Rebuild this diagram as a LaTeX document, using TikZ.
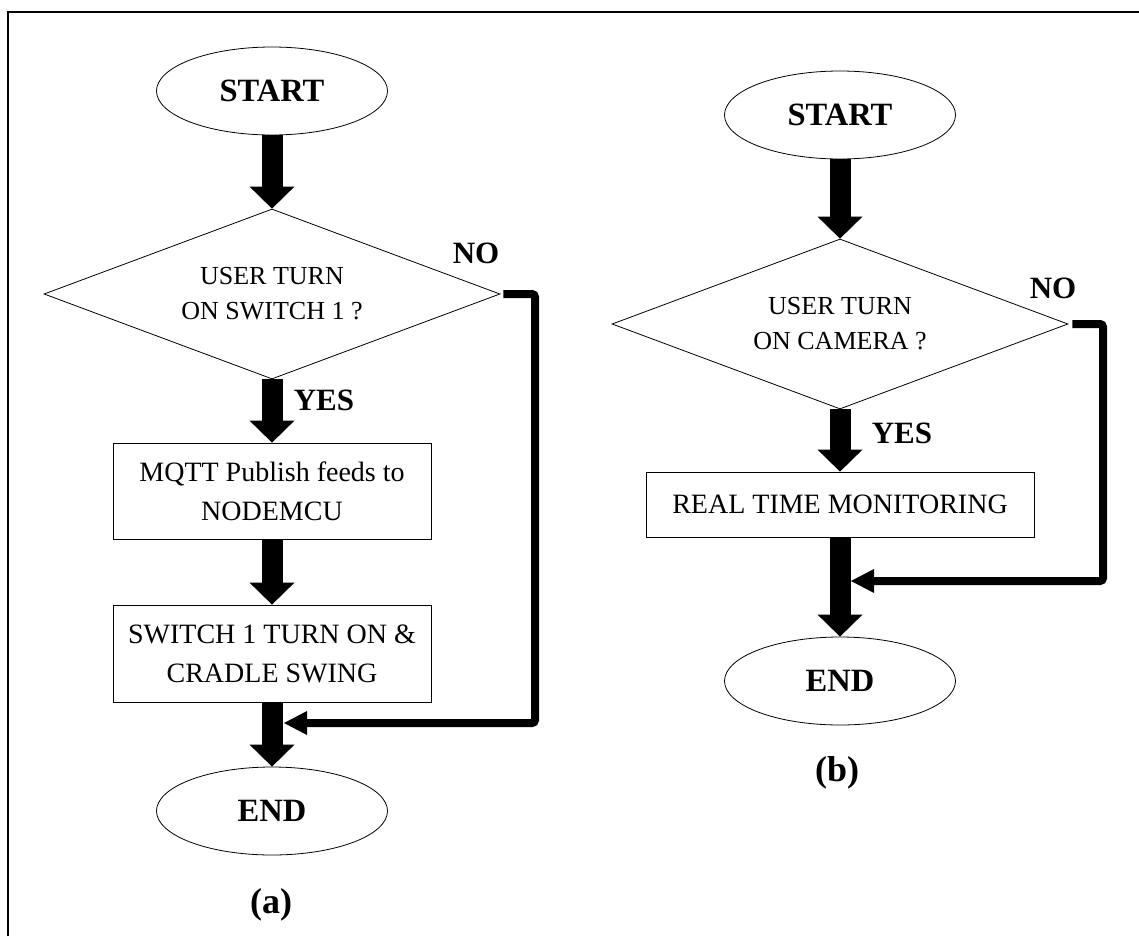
\documentclass[tikz,border=0pt]{standalone}
\usepackage{fontspec}
\setmainfont{Liberation Serif}
\usetikzlibrary{shapes.geometric, arrows.meta}

\begin{document}
\begin{tikzpicture}[x=1pt, y=-1pt,
  term/.style={ellipse, draw, line width=0.8pt, minimum width=231pt, minimum height=88pt,
    inner sep=0pt, font=\fontsize{32.5}{38}\selectfont\bfseries},
  decision/.style={diamond, draw, line width=0.8pt, aspect=2.7, minimum width=456pt,
    minimum height=170pt, inner sep=0pt, align=center, font=\fontsize{26}{35}\selectfont},
  process/.style={rectangle, draw, line width=0.8pt, inner sep=0pt, align=center,
    font=\fontsize{28}{39}\selectfont},
  tag/.style={font=\fontsize{31}{36}\selectfont\bfseries, inner sep=0pt},
  caption/.style={font=\fontsize{36}{40}\selectfont\bfseries, inner sep=0pt},
  bigarrow/.style={line width=21pt, -{Triangle[length=22pt, width=45pt, line width=0pt]}},
  noline/.style={line width=8pt, rounded corners=3pt,
    -{Triangle[length=23pt, width=24pt, line width=0pt]}}
]
\useasboundingbox (0,0) rectangle (1139,936);

% outer frame
\draw[line width=2pt] (8,936) -- (8,12) -- (1139,12);

% ---- flow (a): switch 1 ----
\node[term]     (sa)  at (272,91)    {START};
\node[decision] (da)  at (272,294)   {USER TURN\\ON SWITCH 1 ?};
\node[process, minimum width=318pt, minimum height=96pt] (pa1) at (272,491)
  {MQTT Publish feeds to\\NODEMCU};
\node[process, minimum width=318pt, minimum height=97pt] (pa2) at (272,653.5)
  {SWITCH 1 TURN ON \&\\CRADLE SWING};
\node[term]     (ea)  at (272,811)   {END};
\node[tag] (noa)  at (476,253) {NO};
\node[tag] (yesa) at (324,400) {YES};
\node[caption] (capa) at (271,905) {(a)};

\draw[bigarrow] (sa.south) -- (da.north);
\draw[bigarrow] (da.south) -- (pa1.north);
\draw[bigarrow] (pa1.south) -- (pa2.north);
\draw[bigarrow] (pa2.south) -- (ea.north);

\coordinate (ca) at (535,723);
\coordinate (ja) at (284,723);
\draw[noline] ([xshift=3pt]da.east) -| (ca) -- (ja);

% ---- flow (b): camera ----
\node[term]     (sb)  at (840,115)   {START};
\node[decision] (db)  at (840,324)   {USER TURN\\ON CAMERA ?};
\node[process, minimum width=388pt, minimum height=65pt] (pb) at (840,504.5)
  {REAL TIME MONITORING};
\node[term]     (eb)  at (840,681)   {END};
\node[tag] (nob)  at (1053,288) {NO};
\node[tag] (yesb) at (902,433)  {YES};
\node[caption] (capb) at (837,773)  {(b)};

\draw[bigarrow] (sb.south) -- (db.north);
\draw[bigarrow] (db.south) -- (pb.north);
\draw[bigarrow] (pb.south) -- (eb.north);

\coordinate (cb) at (1103,581);
\coordinate (jb) at (851,581);
\draw[noline] ([xshift=4pt]db.east) -| (cb) -- (jb);
\end{tikzpicture}
\end{document}
